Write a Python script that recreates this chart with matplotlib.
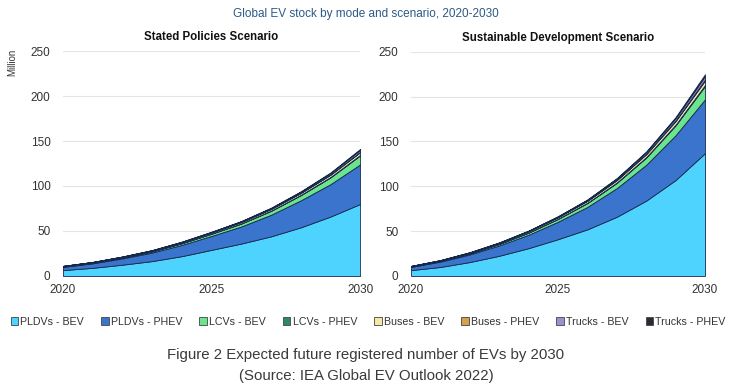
import numpy as np
import matplotlib.pyplot as plt
from matplotlib.patches import Patch

# Data (million vehicles)
years = np.arange(2020, 2031)
series_names = ['PLDVs - BEV', 'PLDVs - PHEV', 'LCVs - BEV', 'LCVs - PHEV',
                'Buses - BEV', 'Buses - PHEV', 'Trucks - BEV', 'Trucks - PHEV']

# Stated Policies Scenario
sps_pldv_bev = [6.5, 9, 12.5, 16.5, 22, 29, 36, 44, 54, 66, 80]
sps_pldv_phev = [3.5, 5, 7, 9.5, 12.5, 15.5, 19, 24, 30, 36, 44]
sps_lcv_bev = [0.4, 0.6, 0.9, 1.3, 1.8, 2.4, 3.2, 4.3, 5.7, 7.5, 10]
sps_lcv_phev = [0.05, 0.1, 0.1, 0.15, 0.2, 0.25, 0.3, 0.35, 0.4, 0.5, 0.6]
sps_bus_bev = [0.6, 0.7, 0.8, 0.9, 1.1, 1.3, 1.5, 1.8, 2.1, 2.5, 3]
sps_bus_phev = [0.05, 0.05, 0.1, 0.1, 0.1, 0.15, 0.2, 0.2, 0.25, 0.3, 0.4]
sps_truck_bev = [0.05, 0.1, 0.15, 0.2, 0.3, 0.4, 0.6, 0.8, 1.1, 1.5, 2.2]
sps_truck_phev = [0.02, 0.05, 0.08, 0.1, 0.15, 0.2, 0.3, 0.4, 0.5, 0.7, 1]

# Sustainable Development Scenario
sds_pldv_bev = [6.5, 10, 15.5, 22.5, 31, 41, 52, 66, 84, 107, 137]
sds_pldv_phev = [3.5, 6, 8.5, 11.5, 15, 19.5, 25, 32, 40, 50, 60]
sds_lcv_bev = [0.4, 0.7, 1.1, 1.6, 2.3, 3.1, 4.3, 5.8, 8, 11, 15]
sds_lcv_phev = [0.05, 0.1, 0.1, 0.2, 0.2, 0.3, 0.4, 0.5, 0.6, 0.8, 1]
sds_bus_bev = [0.6, 0.7, 0.9, 1.1, 1.4, 1.7, 2.1, 2.6, 3.2, 4, 5]
sds_bus_phev = [0.05, 0.05, 0.1, 0.1, 0.15, 0.2, 0.3, 0.4, 0.5, 0.7, 1]
sds_truck_bev = [0.05, 0.1, 0.2, 0.3, 0.4, 0.6, 0.9, 1.3, 1.8, 2.6, 4]
sds_truck_phev = [0.02, 0.05, 0.1, 0.15, 0.2, 0.3, 0.4, 0.6, 0.8, 1.2, 2]

sps = [sps_pldv_bev, sps_pldv_phev, sps_lcv_bev, sps_lcv_phev,
       sps_bus_bev, sps_bus_phev, sps_truck_bev, sps_truck_phev]
sds = [sds_pldv_bev, sds_pldv_phev, sds_lcv_bev, sds_lcv_phev,
       sds_bus_bev, sds_bus_phev, sds_truck_bev, sds_truck_phev]

colors = ['#4dd3fd', '#3a74cc', '#6ce38f', '#2f8a63',
          '#f6e7a3', '#d3a24a', '#9c90d0', '#2b2b38']
edge = '#14284a'

plt.rcParams['font.family'] = ['Liberation Sans', 'DejaVu Sans']

fig = plt.figure(figsize=(7.32, 3.87), dpi=100)
fig.patch.set_facecolor('white')

ax1 = fig.add_axes([0.086, 0.287, 0.406, 0.581])
ax2 = fig.add_axes([0.5615, 0.287, 0.4016, 0.579])

for ax, data, title in [(ax1, sps, 'Stated Policies Scenario'),
                        (ax2, sds, 'Sustainable Development Scenario')]:
    ax.stackplot(years, *data, colors=colors, edgecolor=edge, linewidth=0.6)
    ax.set_xlim(2020, 2030)
    ax.set_ylim(0, 250)
    ax.set_yticks([0, 50, 100, 150, 200, 250])
    ax.set_xticks([2020, 2025, 2030])
    ax.grid(axis='y', color='#e4e4e4', linewidth=0.8)
    ax.set_axisbelow(True)
    for s in ax.spines.values():
        s.set_visible(False)
    ax.tick_params(length=0, labelsize=8.5, colors='#333333')
    ax.tick_params(axis='y', pad=9)
    ax.tick_params(axis='x', pad=6)
    ax.set_title(title, fontsize=8.3, fontweight='bold', pad=8, color='#111111')

ax1.set_ylabel('Million', fontsize=7, color='#333333')
ax1.yaxis.set_label_coords(-0.155, 0.95)

fig.text(0.5, 0.965, 'Global EV stock by mode and scenario, 2020-2030',
         ha='center', va='center', fontsize=8.5, color='#2b5a86')

handles = [Patch(facecolor=c, edgecolor='#444444', linewidth=0.6) for c in colors]
fig.legend(handles, series_names, loc='center', bbox_to_anchor=(0.503, 0.168),
           ncol=8, frameon=False, fontsize=7.7, handlelength=0.7, handleheight=0.7,
           handletextpad=0.2, columnspacing=1.6, labelcolor='#333333')

fig.text(0.5, 0.083, 'Figure 2 Expected future registered number of EVs by 2030',
         ha='center', va='center', fontsize=10.8, color='#3a3a3a')
fig.text(0.5, 0.028, '(Source: IEA Global EV Outlook 2022)',
         ha='center', va='center', fontsize=10.8, color='#3a3a3a')

fig.savefig('out.png', dpi=100, facecolor='white')
